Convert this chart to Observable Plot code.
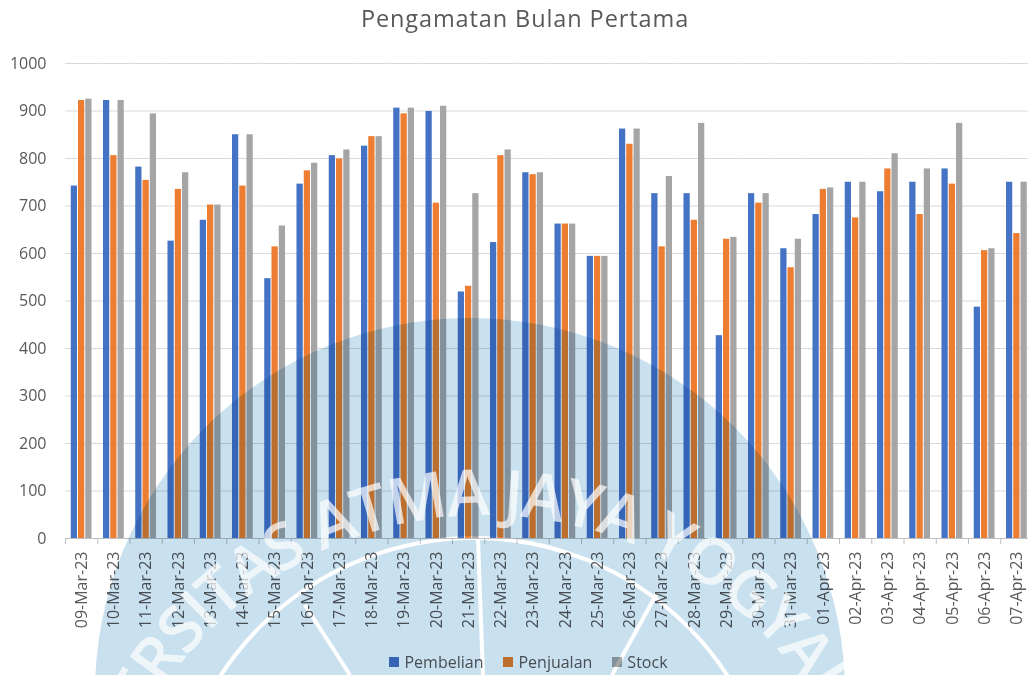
<!DOCTYPE html>
<html>
<head>
<meta charset="utf-8">
<script src="https://cdn.jsdelivr.net/npm/d3@7"></script>
<script src="https://cdn.jsdelivr.net/npm/@observablehq/plot@0.6"></script>
<style>
  html, body { margin: 0; padding: 0; background: #fff; }
  #wrap { position: relative; width: 1028px; height: 675px; overflow: hidden; background: #fff; font-family: "Open Sans", sans-serif; color: #595959; }
  #title { position: absolute; top: 2px; left: 0; width: 1050px; text-align: center; font-size: 23.5px; letter-spacing: 0.9px; color: #595959; }
  #chart { position: absolute; top: 40px; left: 0; }
  #legend { position: absolute; top: 651px; left: 0; width: 1057px; display: flex; justify-content: center; font-size: 16px; color: #595959; }
  .item { display: flex; align-items: center; margin: 0 10px; }
  .sw { width: 10px; height: 10px; margin-right: 5px; }
  #wm { position: absolute; top: 0; left: 0; mix-blend-mode: multiply; pointer-events: none; }
  #wmText { position: absolute; top: 0; left: 0; pointer-events: none; }
</style>
</head>
<body>
<div id="wrap">
  <div id="title"></div>
  <div id="chart"></div>
  <div id="legend"></div>
  <svg id="wm" width="1028" height="675"></svg>
  <svg id="wmText" width="1028" height="675"></svg>
</div>
<script>
const title = "Pengamatan Bulan Pertama";
const dates = ["09-Mar-23","10-Mar-23","11-Mar-23","12-Mar-23","13-Mar-23","14-Mar-23","15-Mar-23","16-Mar-23","17-Mar-23","18-Mar-23","19-Mar-23","20-Mar-23","21-Mar-23","22-Mar-23","23-Mar-23","24-Mar-23","25-Mar-23","26-Mar-23","27-Mar-23","28-Mar-23","29-Mar-23","30-Mar-23","31-Mar-23","01-Apr-23","02-Apr-23","03-Apr-23","04-Apr-23","05-Apr-23","06-Apr-23","07-Apr-23"];
const series = ["Pembelian", "Penjualan", "Stock"];
const colors = ["#4472c4", "#ed7d31", "#a5a5a5"];
const pembelian = [742, 922, 782, 626, 670, 850, 547, 746, 806, 826, 906, 899, 519, 623, 770, 662, 594, 862, 726, 726, 427, 726, 610, 682, 750, 730, 750, 778, 487, 750];
const penjualan = [922, 806, 754, 735, 702, 742, 614, 774, 799, 846, 894, 706, 531, 806, 766, 662, 594, 830, 614, 670, 630, 706, 570, 735, 675, 778, 682, 746, 606, 642];
const stock = [925, 922, 894, 770, 702, 850, 658, 790, 818, 846, 906, 910, 726, 818, 770, 662, 594, 862, 762, 874, 634, 726, 630, 738, 750, 810, 778, 874, 610, 750];
const yTicks = [0, 100, 200, 300, 400, 500, 600, 700, 800, 900, 1000];
const watermarkText = "UNIVERSITAS ATMA JAYA YOGYAKARTA";

const valuesBySeries = [pembelian, penjualan, stock];
const rows = [];
dates.forEach((d, i) => series.forEach((s, j) => rows.push({date: d, series: s, value: valuesBySeries[j][i]})));

document.getElementById("title").textContent = title;

const W = 1028, H = 600, ML = 65, MR = -4.5;
const step = (W - MR - ML) / dates.length;

const chart = Plot.plot({
  width: W, height: H,
  marginTop: 23, marginBottom: 102, marginLeft: ML, marginRight: MR,
  style: {fontFamily: "'Open Sans', sans-serif", fontSize: "16px", color: "#595959", background: "transparent"},
  fx: {domain: dates, padding: 0, round: false, label: null},
  x: {domain: series, paddingInner: 0.14, paddingOuter: 0.79, round: false, axis: null},
  y: {domain: [0, 1000], label: null},
  color: {domain: series, range: colors},
  marks: [
    Plot.gridY(yTicks, {stroke: "#d9d9d9", strokeOpacity: 1, strokeWidth: 1}),
    Plot.axisY(yTicks, {tickSize: 0, tickPadding: 19, label: null, fill: "#595959", tickFormat: d3.format("d")}),
    Plot.barY(rows, {fx: "date", x: "series", y: "value", fill: "series"}),
    Plot.ruleY([0], {stroke: "#bfbfbf"}),
    Plot.axisFx({anchor: "bottom", tickSize: 0, tickPadding: 13, tickRotate: -90, label: null, fill: "#595959"}),
    Plot.axisFx({anchor: "bottom", tickSize: 6, tickFormat: () => "", dx: -step / 2, stroke: "#bfbfbf", label: null})
  ]
});
document.getElementById("chart").appendChild(chart);

const legend = d3.select("#legend");
series.forEach((s, i) => {
  const it = legend.append("div").attr("class", "item");
  it.append("div").attr("class", "sw").style("background", colors[i]);
  it.append("span").text(s);
});

// watermark (decorative overlay): tinted disc + white lines, then translucent lettering
const wm = d3.select("#wm");
wm.append("circle").attr("cx", 470).attr("cy", 693).attr("r", 375).attr("fill", "#c9e0ef");
wm.append("circle").attr("cx", 474).attr("cy", 840).attr("r", 302).attr("fill", "none").attr("stroke", "#fff").attr("stroke-width", 4);
[[478, 540, 483, 675], [305, 605, 350, 675], [657, 593, 612, 675]].forEach(([x1, y1, x2, y2]) =>
  wm.append("line").attr("x1", x1).attr("y1", y1).attr("x2", x2).attr("y2", y2).attr("stroke", "#fff").attr("stroke-width", 4));
const wt = d3.select("#wmText");
const cx = 485, cy = 900, r = 385;
wt.append("path").attr("id", "wmArc").attr("fill", "none")
  .attr("d", `M ${cx - r},${cy} A ${r},${r} 0 0 1 ${cx + r},${cy}`);
wt.append("text").attr("fill", "#fff").attr("fill-opacity", 0.7).attr("font-family", "'Open Sans', sans-serif")
  .attr("font-size", 64).attr("font-weight", 600).attr("letter-spacing", -2)
  .append("textPath").attr("href", "#wmArc").attr("startOffset", "50%").attr("text-anchor", "middle")
  .text(watermarkText);
</script>
</body>
</html>
